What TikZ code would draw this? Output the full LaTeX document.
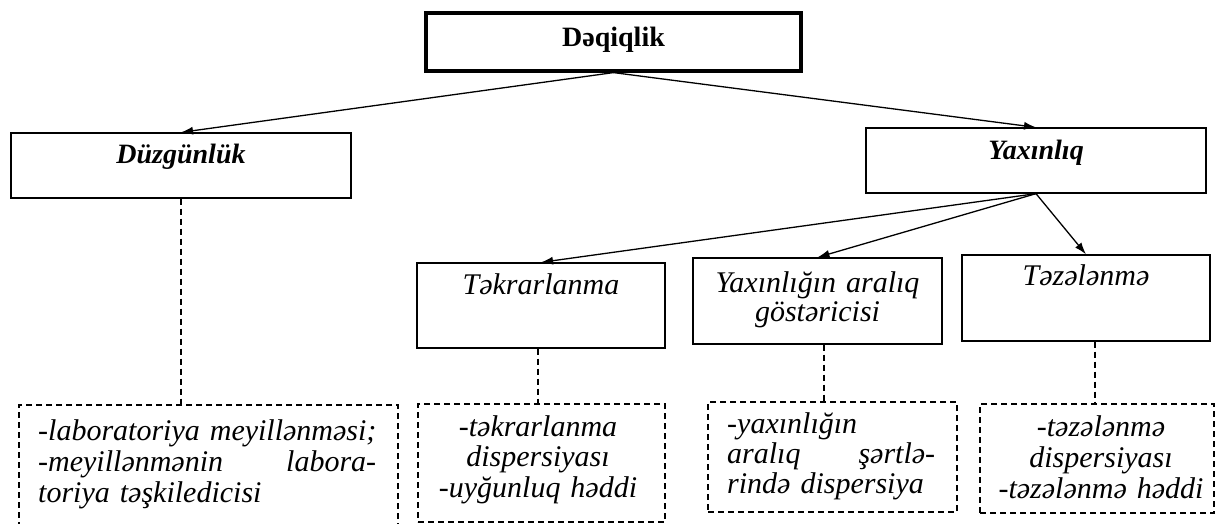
\documentclass[tikz,border=0pt]{standalone}
\usepackage{fontspec}
\setmainfont{Liberation Serif}
\usetikzlibrary{arrows.meta}
\begin{document}
\begin{tikzpicture}[x=1pt,y=-1pt,
  box/.style={draw,line width=1.3pt,inner sep=0pt},
  topbox/.style={draw,line width=3.2pt,inner sep=0pt},
  dbox/.style={draw,line width=1.2pt,dash pattern=on 6pt off 4pt,inner sep=0pt},
  dline/.style={line width=1.2pt,dash pattern=on 6pt off 4pt},
  arr/.style={line width=1.3pt,-{Latex[length=12pt,width=8pt]}},
  ttl/.style={inner sep=0pt,anchor=base,font=\fontsize{28}{30}\selectfont\bfseries},
  bit/.style={inner sep=0pt,anchor=base,font=\fontsize{28}{30}\selectfont\bfseries\itshape},
  itx/.style={inner sep=0pt,anchor=base,font=\fontsize{30}{30}\selectfont\itshape},
]
\useasboundingbox (0,0) rectangle (1224,524);
\clip (0,0) rectangle (1224,524);
% boxes
\node[topbox,minimum width=375pt,minimum height=58pt] (dq) at (613.5,42) {};
\node[box,minimum width=340pt,minimum height=65pt] (du) at (181,165.5) {};
\node[box,minimum width=340pt,minimum height=65pt] (ya) at (1036,160.5) {};
\node[box,minimum width=248pt,minimum height=85pt] (tk) at (541,305.5) {};
\node[box,minimum width=249pt,minimum height=86pt] (yg) at (817.5,301) {};
\node[box,minimum width=248pt,minimum height=86pt] (tz) at (1086,298) {};
\node[dbox,minimum width=379pt,minimum height=135pt] (d1) at (208.5,472.5) {};
\node[dbox,minimum width=247pt,minimum height=118pt] (d2) at (541.5,463) {};
\node[dbox,minimum width=249pt,minimum height=110pt] (d3) at (832.5,457) {};
\node[dbox,minimum width=234pt,minimum height=109pt] (d4) at (1097,458.5) {};
% texts
\node[ttl] (tdq) at (613.5,47) {Dəqiqlik};
\node[bit] (tdu) at (181,164) {Düzgünlük};
\node[bit] (tya) at (1036,160) {Yaxınlıq};
\node[itx] (ttk) at (541,294) {Təkrarlanma};
\node[itx,text width=240pt,align=center,font=\fontsize{30}{29}\selectfont\itshape] (tyg) at (817.5,292) {Yaxınlığın aralıq\\göstəricisi};
\node[itx] (ttz) at (1086,285) {Təzələnmə};
\node[itx,anchor=base west,text width=338pt,align=left,font=\fontsize{30}{31}\selectfont\itshape] (x1) at (38,440)
  {\mbox{-laboratoriya meyillənməsi;}\\-meyillənmənin\hfill labora-\\toriya təşkiledicisi};
\node[itx,text width=230pt,align=center,font=\fontsize{30}{30.5}\selectfont\itshape] (x2) at (538,436)
  {-təkrarlanma\\dispersiyası\\-uyğunluq həddi};
\node[itx,anchor=base west,text width=208pt,align=left] (x3) at (727,433)
  {-yaxınlığın\\aralıq\hfill şərtlə-\\rində dispersiya};
\node[itx,text width=230pt,align=center,font=\fontsize{30}{31}\selectfont\itshape] (x4) at (1101,436)
  {-təzələnmə\\dispersiyası\\-təzələnmə həddi};
% arrows
\draw[arr] (dq.south) -- (du.north);
\draw[arr] (dq.south) -- (ya.north);
\draw[arr] (ya.south) -- (tk.north);
\draw[arr] (ya.south) -- (yg.north);
\draw[arr] (ya.south) -- (tz.north);
% dashed connectors
\draw[dline] (du.south) -- (du.south |- d1.north);
\draw[dline] ([xshift=-3pt]tk.south) -- ([xshift=-3pt]tk.south |- d2.north);
\draw[dline] ([xshift=6.5pt]yg.south) -- ([xshift=6.5pt]yg.south |- d3.north);
\draw[dline] ([xshift=9pt]tz.south) -- ([xshift=9pt]tz.south |- d4.north);
\end{tikzpicture}
\end{document}
